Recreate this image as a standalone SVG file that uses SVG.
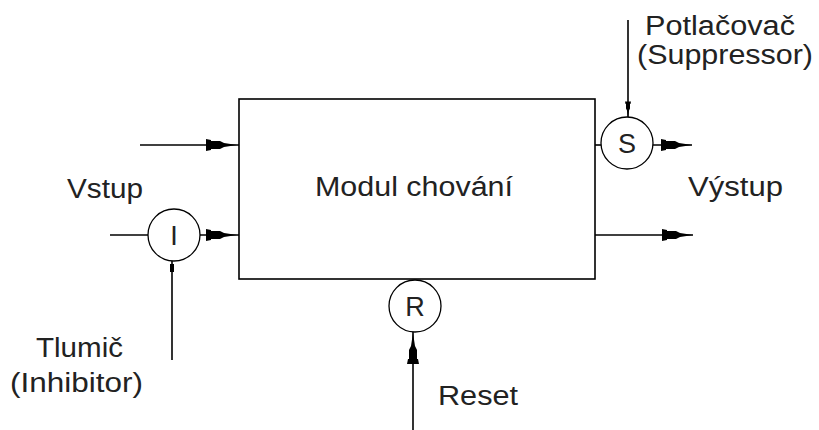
<svg xmlns="http://www.w3.org/2000/svg" width="819" height="430" viewBox="0 0 819 430">
<style>
.ln{stroke:#000;stroke-width:1.6;fill:none}
.cir{stroke:#000;stroke-width:1.3;fill:#fff}
.t{font-family:"Liberation Sans",Arial,sans-serif;font-size:27px;fill:#222}
.ah{fill:#000}
</style>
<defs>
<path id="arr" d="M0,0 L-13,-2 L-17,-4 L-26,-4 L-26,-5 L-31,-6 L-31,6 L-26,5 L-26,4 L-17,4 L-13,2 Z"/>
</defs>
<rect width="819" height="430" fill="#fff"/>
<g id="module">
<rect x="239" y="99" width="356" height="180" class="ln"/>
<text class="t" x="315" y="196" textLength="198" lengthAdjust="spacingAndGlyphs">Modul chování</text>
</g>
<g id="inhibitor">
<circle cx="174" cy="235" r="26" class="cir"/>
<text class="t" x="174" y="245" text-anchor="middle">I</text>
</g>
<g id="suppressor">
<circle cx="627" cy="143" r="26" class="cir"/>
<text class="t" x="627" y="153" text-anchor="middle">S</text>
</g>
<g id="reset">
<circle cx="415" cy="306" r="26" class="cir"/>
<text class="t" x="415" y="316" text-anchor="middle">R</text>
</g>
<g id="labels">
<text class="t" x="67" y="198" textLength="76" lengthAdjust="spacingAndGlyphs">Vstup</text>
<text class="t" x="688" y="196" textLength="95" lengthAdjust="spacingAndGlyphs">Výstup</text>
<text class="t" x="645" y="35" textLength="150" lengthAdjust="spacingAndGlyphs">Potlačovač</text>
<text class="t" x="637" y="64" textLength="176" lengthAdjust="spacingAndGlyphs">(Suppressor)</text>
<text class="t" x="36" y="357" textLength="87" lengthAdjust="spacingAndGlyphs">Tlumič</text>
<text class="t" x="10" y="392" textLength="133" lengthAdjust="spacingAndGlyphs">(Inhibitor)</text>
<text class="t" x="438" y="405" textLength="80" lengthAdjust="spacingAndGlyphs">Reset</text>
</g>
<g id="connectors">
<line x1="140" y1="145" x2="239" y2="145" class="ln"/>
<use href="#arr" transform="translate(237,145)" class="ah"/>
<line x1="110" y1="235" x2="148" y2="235" class="ln"/>
<line x1="200" y1="235" x2="239" y2="235" class="ln"/>
<use href="#arr" transform="translate(237,235)" class="ah"/>
<line x1="172" y1="261" x2="172" y2="360" class="ln"/>
<rect x="170" y="264" width="4" height="8" class="ah"/>
<line x1="595" y1="145" x2="601" y2="145" class="ln"/>
<line x1="653" y1="145" x2="692" y2="145" class="ln"/>
<use href="#arr" transform="translate(692,145)" class="ah"/>
<line x1="595" y1="235" x2="693" y2="235" class="ln"/>
<use href="#arr" transform="translate(693,235)" class="ah"/>
<line x1="628" y1="20" x2="628" y2="117" class="ln"/>
<use href="#arr" transform="translate(628,117) rotate(90) scale(0.5)" class="ah"/>
<line x1="413" y1="332" x2="413" y2="430" class="ln"/>
<use href="#arr" transform="translate(413,333) rotate(-90)" class="ah"/>
</g>
</svg>
